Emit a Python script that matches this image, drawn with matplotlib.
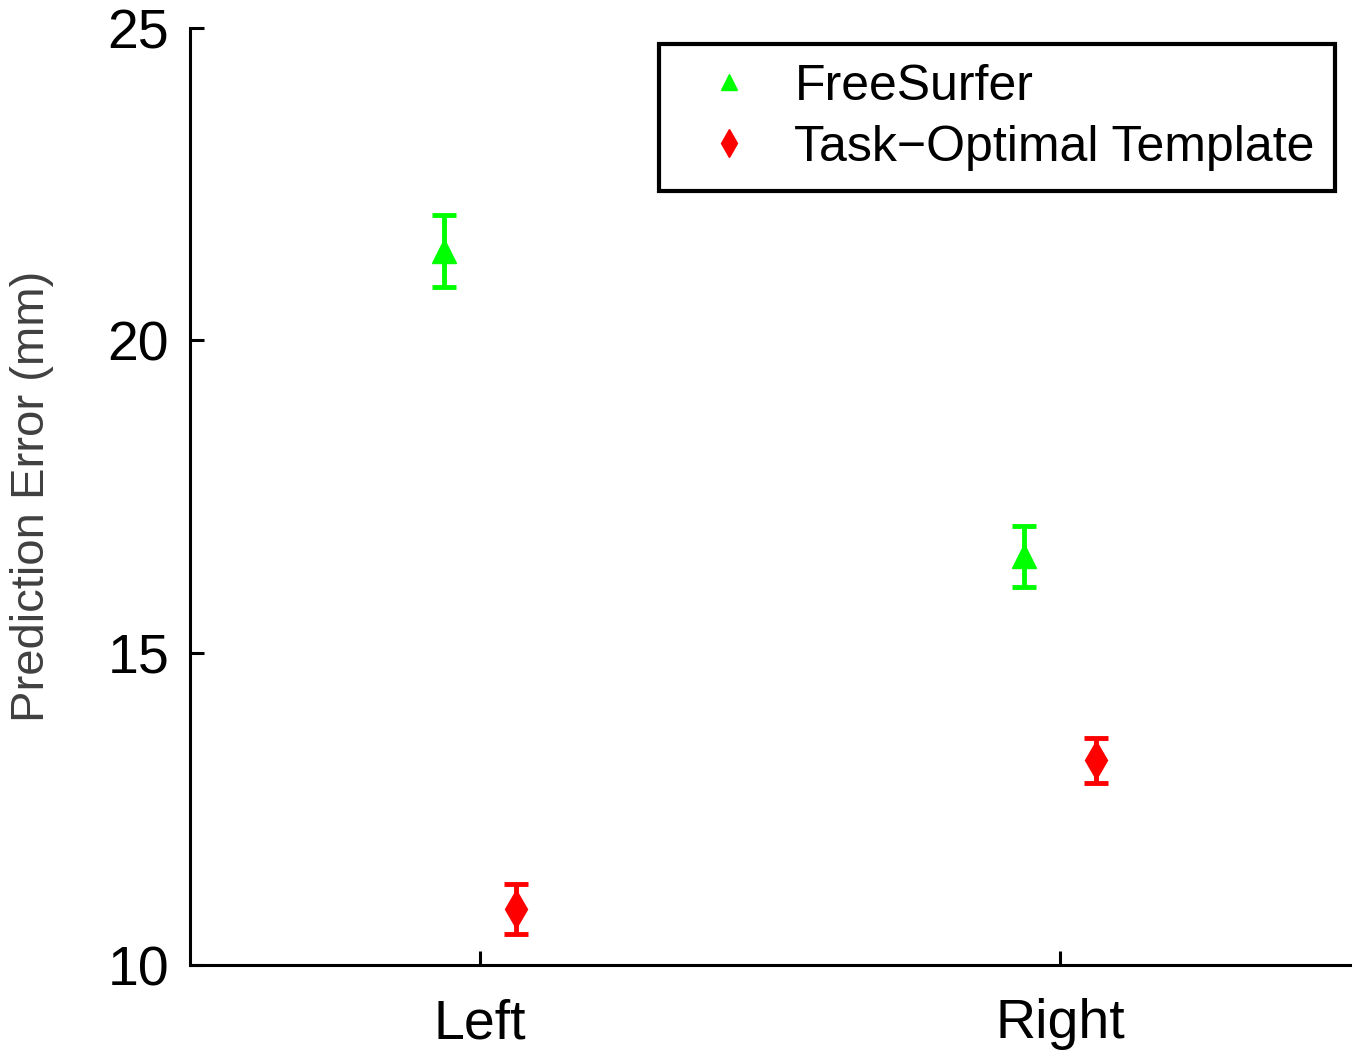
import numpy as np
import matplotlib
matplotlib.use('Agg')
import matplotlib.pyplot as plt
from matplotlib.lines import Line2D

plt.rcParams['font.family'] = ['Liberation Sans', 'DejaVu Sans']

# data
groups = ['Left', 'Right']
freesurfer_mean = [21.43, 16.54]
freesurfer_err = [0.58, 0.49]
template_mean = [10.89, 13.28]
template_err = [0.40, 0.36]

x = np.arange(1, len(groups) + 1)
offset = 0.0625

fig = plt.figure(figsize=(13.6, 10.57), dpi=100)
ax = fig.add_axes([0.1397, 0.087, 0.8529, 0.8865])

ax.errorbar(x - offset, freesurfer_mean, yerr=freesurfer_err, fmt='^', color=(0, 1, 0),
            markersize=17, elinewidth=3.5, capsize=8.5, capthick=3.5)
ax.errorbar(x + offset, template_mean, yerr=template_err, fmt='d', color=(1, 0, 0),
            markersize=19, elinewidth=3.5, capsize=8.5, capthick=3.5)

ax.set_xlim(0.5, 2.5)
ax.set_ylim(10, 25)
ax.set_xticks(x)
ax.set_xticklabels(groups)
ax.set_yticks([10, 15, 20, 25])
ax.tick_params(direction='in', length=10, width=2.2, labelsize=40)
ax.tick_params(axis='y', pad=15)
ax.tick_params(axis='x', pad=24)
for s in ['top', 'right']:
    ax.spines[s].set_visible(False)
for s in ['left', 'bottom']:
    ax.spines[s].set_linewidth(2.2)
ax.set_ylabel('Prediction Error (mm)', fontsize=34, color='#404040')
ax.yaxis.set_label_coords(-0.117, 0.5)

handles = [Line2D([], [], linestyle='none', marker='^', color=(0, 1, 0), markersize=12),
           Line2D([], [], linestyle='none', marker='d', color=(1, 0, 0), markersize=14)]
leg = ax.legend(handles, ['FreeSurfer', 'Task\u2212Optimal Template'],
                loc='upper right', bbox_to_anchor=(0.987, 0.983), fontsize=36,
                handlelength=2.0, handletextpad=0.3, borderpad=0.4, labelspacing=0.3,
                borderaxespad=0, fancybox=False, framealpha=1, edgecolor='black')
leg.get_frame().set_linewidth(3)

fig.savefig('out.png', dpi=100)
